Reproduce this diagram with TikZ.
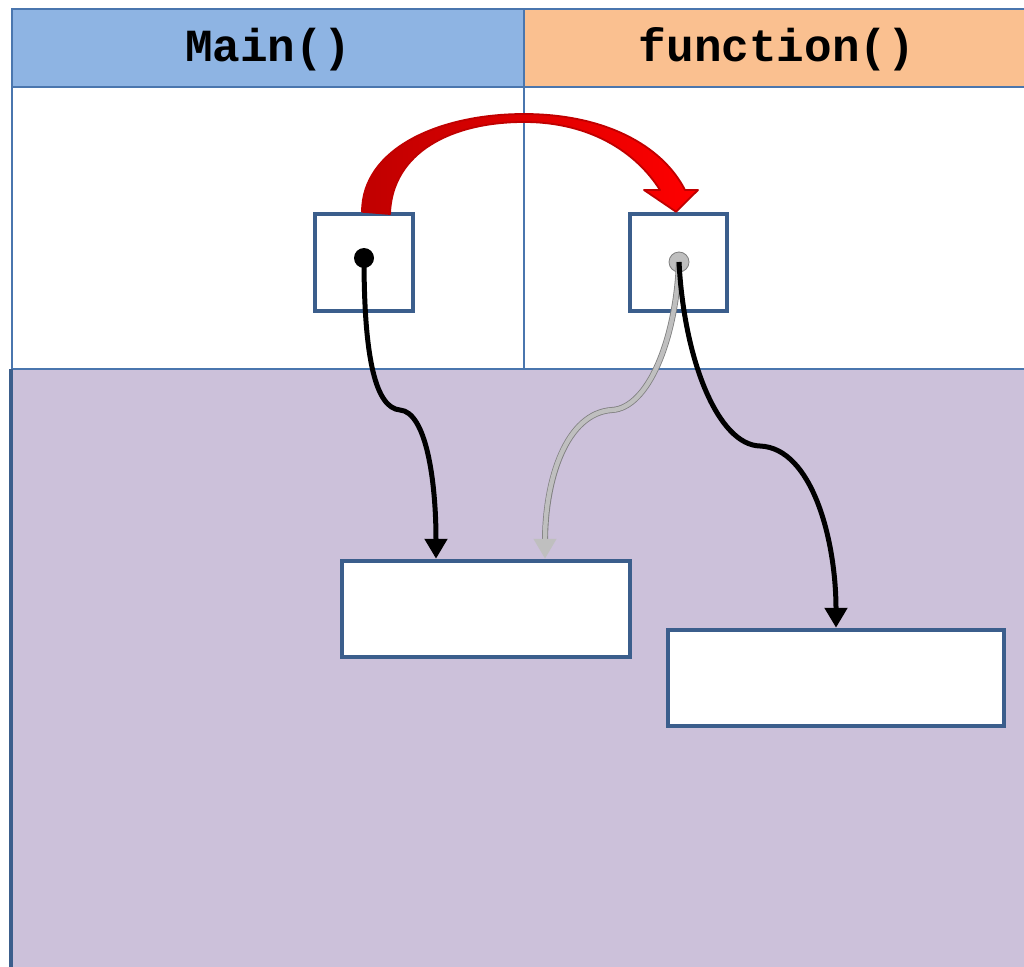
\documentclass[tikz,border=0pt]{standalone}
\usepackage{fontspec}
\newfontfamily\codefont{Liberation Mono}
\usetikzlibrary{arrows.meta}
\definecolor{hdrblue}{HTML}{8EB4E3}
\definecolor{hdrorange}{HTML}{FAC090}
\definecolor{heap}{HTML}{CCC1DA}
\definecolor{frame}{HTML}{3B5E8C}
\definecolor{gridline}{HTML}{4A76AE}
\definecolor{darkred}{HTML}{C00000}
\definecolor{ptrgray}{HTML}{BFBFBF}
\definecolor{ptredge}{HTML}{7F7F7F}
\begin{document}
\begin{tikzpicture}[x=1pt,y=-1pt,
  header/.style={draw=gridline, line width=1.5pt, minimum height=78pt, inner sep=0pt,
                 text height=28pt, text depth=0pt,
                 font=\codefont\bfseries\fontsize{46}{46}\selectfont},
  varbox/.style={draw=frame, line width=4.5pt, fill=white, minimum width=98pt, minimum height=97pt, inner sep=0pt},
  objbox/.style={draw=frame, line width=4.5pt, fill=white, minimum height=96pt, inner sep=0pt},
  ref/.style={line width=5pt, -{Triangle[length=20pt,width=22pt]}},
]
\path[use as bounding box] (0,0) rectangle (1024,966);
\clip (0,0) rectangle (1024,966);
\fill[white] (0,0) rectangle (1024,966);

% stack frames
\draw[gridline, line width=1.5pt] (12,87) -- (12,369);
\draw[gridline, line width=1.5pt] (524,87) -- (524,369);
\node[header, fill=hdrblue, minimum width=512pt] (hmain) at (268,48) {Main()};
\node[header, fill=hdrorange, minimum width=506pt] (hfunc) at (777,48) {function()};

% heap area
\fill[heap] (11,369) rectangle (1030,970);
\draw[gridline, line width=2pt] (11,369) -- (1030,369);
\draw[frame, line width=3.5pt] (11,369) -- (11,970);

% variables
\node[varbox] (s1) at (364,262.5) {};
\node[varbox, minimum width=97pt] (s2) at (678.5,262.5) {};

% objects
\node[objbox, minimum width=288pt] (o1) at (486,609) {};
\node[objbox, minimum width=336pt] (o2) at (836,678) {};

% references
\node[circle, fill=black, minimum size=20pt, inner sep=0pt] (d1) at (364,258) {};
\node[circle, fill=ptrgray, draw=ptredge, line width=0.8pt, minimum size=20pt, inner sep=0pt] (d2) at (679,262) {};

\coordinate (t1) at ([xshift=-50pt]o1.north);
\coordinate (t2) at ([xshift=59pt]o1.north);

\draw[ref] (d1.center) .. controls (364,360) and (376,408) .. (400,410)
  .. controls (426,412) and (436,480) .. (t1);
\draw[line width=6pt, ptredge, shorten >=17pt] (d2.center) .. controls (676,340) and (648,408) .. (612,410)
  .. controls (566,413) and (545,480) .. (t2);
\draw[line width=4.4pt, ptrgray, -{Triangle[length=20pt,width=22pt,fill=ptrgray]}] (d2.center) .. controls (676,340) and (648,408) .. (612,410)
  .. controls (566,413) and (545,480) .. (t2);
\draw[ref] (d2.center) .. controls (684,360) and (718,445) .. (760,446)
  .. controls (812,448) and (836,540) .. (o2.north);

% call arrow
\draw[darkred, line width=1.8pt, line join=round, left color=darkred, middle color=darkred, right color=red]
  (s1.north -| 362,0) .. controls (362,148) and (440,114) .. (524,114)
  .. controls (604,114) and (662,145) .. (685,190)
  -- (698,190) -- (s2.north -| 676,0) -- (644,190) -- (660,190)
  .. controls (636,152) and (590,122) .. (524,122)
  .. controls (452,122) and (392,152) .. (390,214) -- cycle;
\end{tikzpicture}
\end{document}
